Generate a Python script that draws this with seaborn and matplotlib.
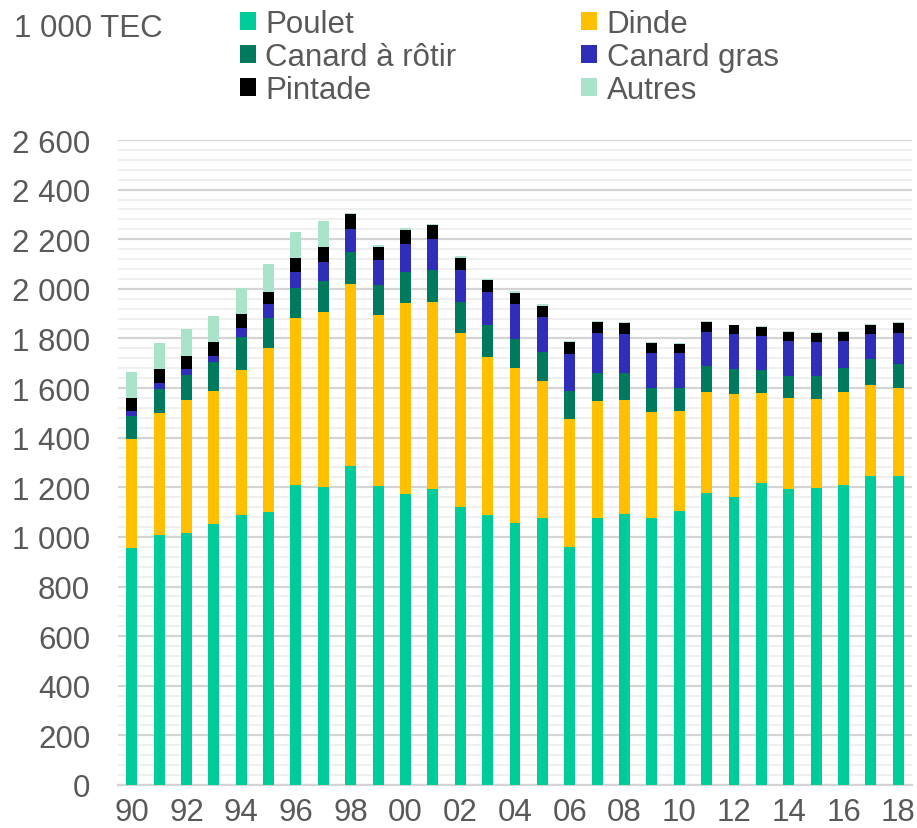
import numpy as np
import pandas as pd
import matplotlib
matplotlib.use("Agg")
import matplotlib.pyplot as plt
from matplotlib.ticker import MultipleLocator, FuncFormatter
from matplotlib.patches import Patch
import seaborn as sns

years = ["90", "91", "92", "93", "94", "95", "96", "97", "98", "99",
         "00", "01", "02", "03", "04", "05", "06", "07", "08", "09",
         "10", "11", "12", "13", "14", "15", "16", "17", "18"]
poulet = [954, 1007, 1016, 1051, 1087, 1102, 1209, 1200, 1284, 1207,
          1174, 1195, 1120, 1087, 1056, 1075, 961, 1077, 1093, 1077,
          1103, 1176, 1160, 1219, 1192, 1199, 1209, 1245, 1245]
dinde = [442, 493, 536, 536, 586, 659, 675, 706, 736, 687,
         769, 753, 703, 639, 624, 554, 516, 472, 458, 428,
         403, 408, 415, 361, 367, 356, 375, 368, 357]
canard_rotir = [91, 98, 102, 119, 132, 120, 119, 127, 128, 120,
                125, 128, 122, 130, 119, 116, 113, 113, 111, 97,
                96, 103, 101, 92, 91, 94, 97, 106, 97]
canard_gras = [19, 21, 22, 23, 37, 56, 65, 77, 92, 101,
               112, 123, 131, 131, 138, 140, 149, 160, 155, 139,
               139, 141, 141, 137, 138, 136, 109, 99, 125]
pintade = [54, 57, 55, 57, 55, 52, 58, 59, 60, 55,
           59, 59, 50, 49, 47, 47, 45, 44, 46, 40,
           37, 39, 36, 37, 39, 39, 38, 38, 39]
autres = [103, 104, 108, 104, 106, 110, 105, 105, 4, 6,
          5, 4, 5, 4, 7, 7, 5, 6, 3, 3,
          3, 3, 3, 3, 3, 3, 3, 3, 3]

series_names = ["Poulet", "Dinde", "Canard à rôtir", "Canard gras", "Pintade", "Autres"]
series_vals = [poulet, dinde, canard_rotir, canard_gras, pintade, autres]
colors = ["#00CC99", "#FFC000", "#007A5C", "#2E2EB8", "#000000", "#A9E3CA"]

sns.set_theme(style="white")
plt.rcParams["font.family"] = ["Liberation Sans", "DejaVu Sans"]
text_color = "#595959"

fig = plt.figure(figsize=(9.17, 8.29), dpi=100)
ax = fig.add_axes([0.1287, 0.0519, 0.8658, 0.778])

df = pd.DataFrame({"year": years})
cum = np.zeros(len(years))
cums = []
for v in series_vals:
    cum = cum + np.array(v, dtype=float)
    cums.append(cum.copy())

# draw from top layer down so each lower cumulative covers the part below
for name, c, col in reversed(list(zip(series_names, cums, colors))):
    d = df.copy()
    d["val"] = c
    sns.barplot(data=d, x="year", y="val", color=col, width=0.4,
                saturation=1, ax=ax, order=years, zorder=3, linewidth=0)

ax.set_ylim(0, 2600)
ax.set_xlim(-0.5, 28.5)
ax.yaxis.set_major_locator(MultipleLocator(200))
ax.yaxis.set_minor_locator(MultipleLocator(40))
ax.yaxis.set_major_formatter(FuncFormatter(lambda v, p: f"{int(v):,}".replace(",", " ")))
ax.set_axisbelow(True)
ax.grid(True, which="minor", axis="y", color="#EFEFEF", lw=1.4, zorder=0)
ax.grid(True, which="major", axis="y", color="#D4D4D4", lw=1.6, zorder=1)
ax.grid(False, axis="x")

ax.set_xticks(range(0, len(years), 2))
ax.set_xticklabels(years[::2])
ax.tick_params(axis="both", which="both", length=0, labelsize=22.5, colors=text_color)
ax.tick_params(axis="y", pad=20)
ax.tick_params(axis="x", pad=9)
ax.set_xlabel("")
ax.set_ylabel("")
for s in ["top", "right", "left"]:
    ax.spines[s].set_visible(False)
ax.spines["bottom"].set_color("#D4D4D4")
ax.spines["bottom"].set_linewidth(1.6)

fig.text(0.015, 0.9554, "1 000 TEC", fontsize=22.5, color=text_color, va="baseline", ha="left")

order = [0, 2, 4, 1, 3, 5]
handles = [Patch(facecolor=colors[i], edgecolor="none") for i in order]
labels = [series_names[i] for i in order]
leg = fig.legend(handles, labels, ncol=2, loc="upper left", bbox_to_anchor=(0.2617, 0.9874),
                 frameon=False, fontsize=22.5, borderpad=0, handlelength=0.51, handleheight=0.51,
                 handletextpad=0.3, columnspacing=4.0, labelspacing=0.09, borderaxespad=0)
for t in leg.get_texts():
    t.set_color(text_color)

fig.savefig("out.png", dpi=100)
